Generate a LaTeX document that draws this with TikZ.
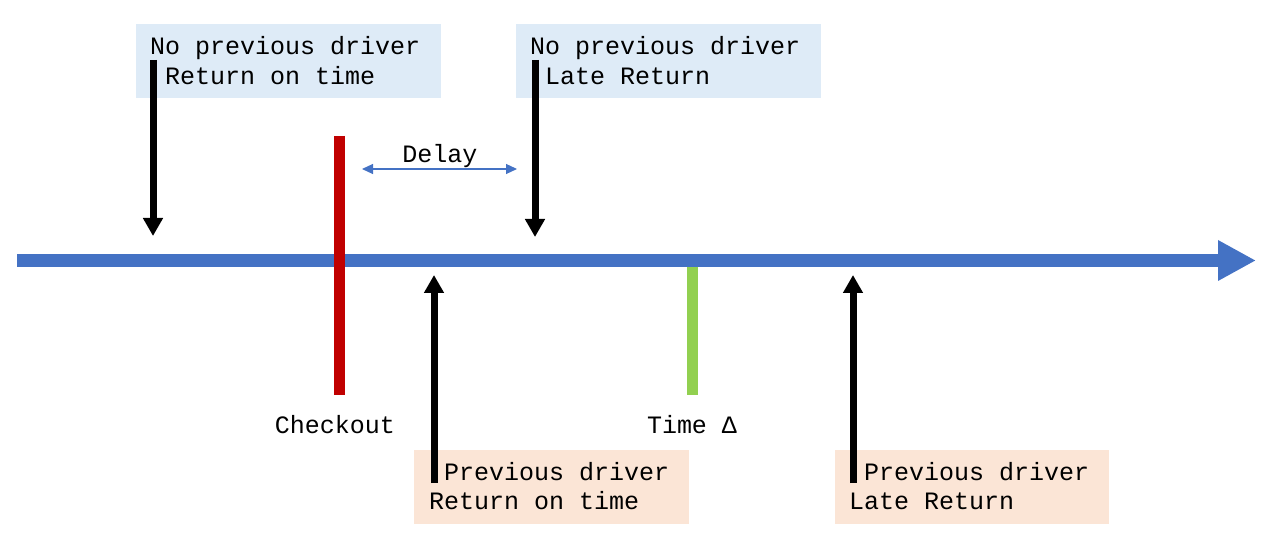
\documentclass[tikz,border=0pt]{standalone}
\usepackage{fontspec}
\setmainfont{Liberation Mono}
\usetikzlibrary{arrows.meta}
\definecolor{axisblue}{HTML}{4472C4}
\definecolor{boxblue}{HTML}{DEEBF7}
\definecolor{boxpeach}{HTML}{FBE5D6}
\definecolor{barred}{HTML}{C00000}
\definecolor{bargreen}{HTML}{92D050}
\tikzset{
  box/.style={draw=none, inner sep=0pt, anchor=north west, minimum width=#1, minimum height=74pt},
  lbl/.style={inner sep=0pt, anchor=base west, font=\fontsize{25}{30}\selectfont},
  clbl/.style={inner sep=0pt, anchor=base, font=\fontsize{25}{30}\selectfont},
  marker/.style={line width=7pt, -{Triangle[length=18pt,width=19pt]}},
  axisline/.style={axisblue, line width=13pt, -{Triangle[length=38pt,width=38pt]}},
  delayarrow/.style={axisblue, line width=1.2pt, {Triangle[length=11pt,width=10pt]}-{Triangle[length=11pt,width=10pt]}},
  bar/.style={line width=11pt}
}
\begin{document}
\begin{tikzpicture}[x=1pt,y=-1pt]
\useasboundingbox (0,0) rectangle (1272,537);
% boxes
\node (b1) [box=305pt, fill=boxblue] at (136,24) {};
\node (b2) [box=305pt, fill=boxblue] at (516,24) {};
\node (b3) [box=275pt, fill=boxpeach] at (414,450) {};
\node (b4) [box=274pt, fill=boxpeach] at (835,450) {};
% axis
\coordinate (ax0) at (17,260.5);
\coordinate (ax1) at (1256,260.5);
\draw[axisline] (ax0) -- (ax1);
% bars
\coordinate (r0) at (339.5,136);
\coordinate (r1) at (339.5,395);
\draw[bar, barred] (r0) -- (r1);
\coordinate (g0) at (692.5,267);
\coordinate (g1) at (692.5,395);
\draw[bar, bargreen] (g0) -- (g1);
% delay
\coordinate (d0) at (362,169);
\coordinate (d1) at (517,169);
\draw[delayarrow] (d0) -- (d1);
\node (delay) [clbl] at (440,163) {Delay};
% texts in boxes
\node (t1a) [lbl] at (150,55) {No previous driver};
\node (t1b) [lbl] at (150,85) {\hphantom{x}Return on time};
\node (t2a) [lbl] at (530,55) {No previous driver};
\node (t2b) [lbl] at (530,85) {\hphantom{x}Late Return};
\node (t3a) [lbl] at (429,480) {\hphantom{x}Previous driver};
\node (t3b) [lbl] at (429,509) {Return on time};
\node (t4a) [lbl] at (849,480) {\hphantom{x}Previous driver};
\node (t4b) [lbl] at (849,509) {Late Return};
% labels
\node (chk) [clbl] at (335,433) {Checkout};
\node (tdelta) [clbl] at (692,433) {Time Δ};
% marker arrows
\coordinate (m1s) at (153,60);  \coordinate (m1e) at (153,236);
\coordinate (m2s) at (535,60);  \coordinate (m2e) at (535,237);
\coordinate (m3s) at (434,483); \coordinate (m3e) at (434,275);
\coordinate (m4s) at (853,483); \coordinate (m4e) at (853,275);
\draw[marker] (m1s) -- (m1e);
\draw[marker] (m2s) -- (m2e);
\draw[marker] (m3s) -- (m3e);
\draw[marker] (m4s) -- (m4e);
\end{tikzpicture}
\end{document}
